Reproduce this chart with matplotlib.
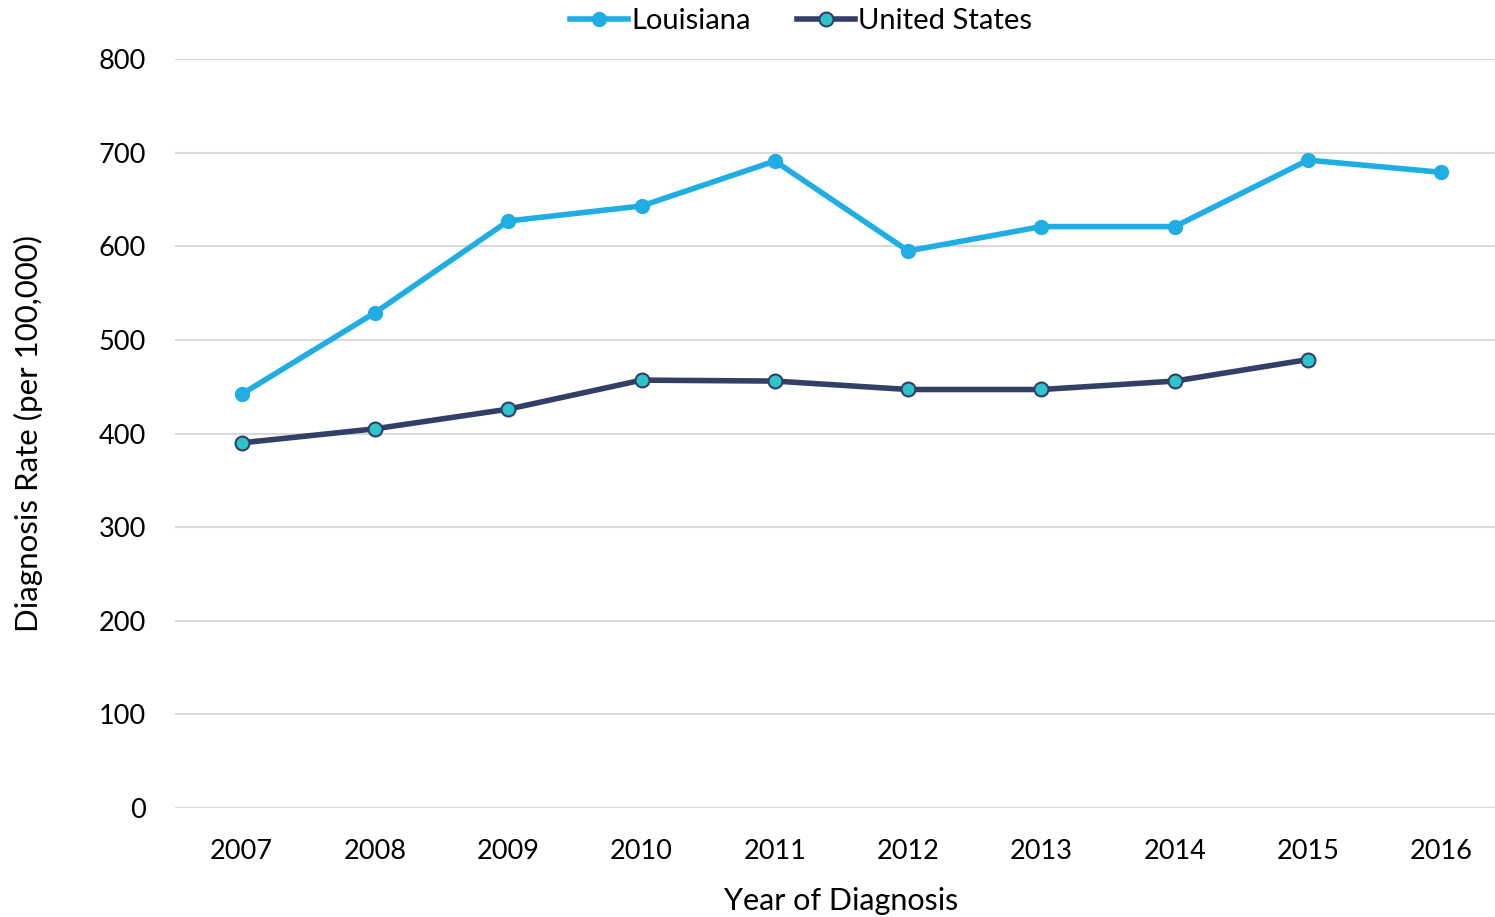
import matplotlib
matplotlib.use("Agg")
import matplotlib.pyplot as plt

years = ["2007", "2008", "2009", "2010", "2011", "2012", "2013", "2014", "2015", "2016"]
louisiana = [442, 529, 627, 643, 691, 595, 621, 621, 692, 679]
united_states = [390, 405, 426, 457, 456, 447, 447, 456, 479]

plt.rcParams["font.family"] = ["Lato", "DejaVu Sans"]

fig = plt.figure(figsize=(14.95, 9.17), dpi=100)
# plot area runs a little past the right edge of the figure, as in the reference
ax = fig.add_axes([175 / 1495, 1 - 808 / 917, 1333 / 1495, (808 - 59) / 917])

x = list(range(len(years)))
ax.plot(x, louisiana, color="#1fade4", linewidth=4, marker="o", markersize=10,
        markerfacecolor="#1fade4", markeredgecolor="#1fade4", label="Louisiana", zorder=3)
ax.plot(x[:len(united_states)], united_states, color="#333f66", linewidth=4, marker="o",
        markersize=10, markerfacecolor="#2ec4cc", markeredgecolor="#333f66",
        markeredgewidth=1.5, label="United States", zorder=3)

ax.set_xlim(-0.5, len(years) - 0.5)
ax.set_ylim(0, 800)
ax.set_yticks(range(0, 801, 100))
ax.set_xticks(x)
ax.set_xticklabels(years)
ax.grid(axis="y", color="#d9d9d9", linewidth=1.5)
ax.set_axisbelow(True)
for side in ["top", "right", "left", "bottom"]:
    ax.spines[side].set_visible(False)
ax.tick_params(axis="both", length=0, labelsize=19.5)
ax.tick_params(axis="y", pad=21)
ax.tick_params(axis="x", pad=22)

ax.set_xlabel("Year of Diagnosis", fontsize=22, labelpad=17)
ax.set_ylabel("Diagnosis Rate (per 100,000)", fontsize=22.5, labelpad=40)

fig.legend(*ax.get_legend_handles_labels(), loc="center",
           bbox_to_anchor=(801 / 1495, 1 - 21 / 917), ncol=2, frameon=False,
           fontsize=21, handlelength=2.0, columnspacing=1.6, handletextpad=0.1)

fig.savefig("out.png", dpi=100)
